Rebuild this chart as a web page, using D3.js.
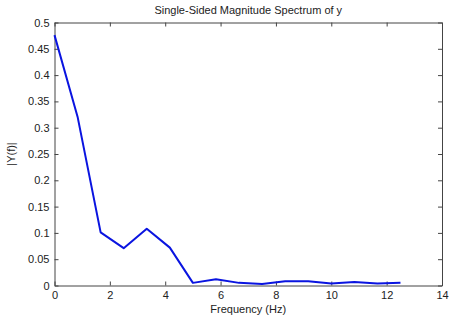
<!DOCTYPE html>
<html lang="en">
<head>
    <meta charset="UTF-8">
    <title>Single-Sided Magnitude Spectrum of y</title>
    <script src="https://d3js.org/d3.v7.js"></script>
    <style>
        body {
            margin: 0;
            background: #fff;
            font-family: "Liberation Sans", Arial, sans-serif;
        }
        .tick text {
            font-size: 11px;
            fill: #222;
        }
        .label {
            font-size: 11px;
            fill: #222;
        }
    </style>
</head>
<body>
    <svg id="chart"></svg>

    <script>
        // Data
        const freq = [0, 0.833, 1.667, 2.5, 3.333, 4.167, 5, 5.833, 6.667, 7.5, 8.333, 9.167, 10, 10.833, 11.667, 12.5];
        const mag = [0.476, 0.321, 0.101, 0.071, 0.108, 0.072, 0.005, 0.012, 0.005, 0.003, 0.008, 0.008, 0.004, 0.0065, 0.004, 0.005];
        const xTicks = [0, 2, 4, 6, 8, 10, 12, 14];
        const yTicks = [0, 0.05, 0.1, 0.15, 0.2, 0.25, 0.3, 0.35, 0.4, 0.45, 0.5];

        const width = 449;
        const height = 320;
        const margin = {top: 22.5, right: 7, bottom: 34.5, left: 54.5};

        const svg = d3.select("#chart")
            .attr("width", width)
            .attr("height", height);

        const x = d3.scaleLinear()
            .domain([0, 14])
            .range([margin.left, width - margin.right]);

        const y = d3.scaleLinear()
            .domain([0, 0.5])
            .range([height - margin.bottom, margin.top]);

        const axisColor = "#444";
        const tickLen = 4;

        // Bottom and left axes, ticks pointing inward
        const gx = svg.append("g")
            .attr("transform", `translate(0, ${y(0)})`)
            .call(d3.axisBottom(x).tickValues(xTicks).tickFormat(d3.format("d"))
                .tickSizeInner(-tickLen).tickSizeOuter(0).tickPadding(6));

        const gy = svg.append("g")
            .attr("transform", `translate(${x(0)}, 0)`)
            .call(d3.axisLeft(y).tickValues(yTicks).tickFormat(d => d === 0 ? "0" : String(d))
                .tickSizeInner(-tickLen).tickSizeOuter(0).tickPadding(5));

        // Top and right axes (ticks only)
        const gt = svg.append("g")
            .attr("transform", `translate(0, ${y(0.5)})`)
            .call(d3.axisTop(x).tickValues(xTicks).tickFormat("")
                .tickSizeInner(-tickLen).tickSizeOuter(0));

        const gr = svg.append("g")
            .attr("transform", `translate(${x(14)}, 0)`)
            .call(d3.axisRight(y).tickValues(yTicks).tickFormat("")
                .tickSizeInner(-tickLen).tickSizeOuter(0));

        [gx, gy, gt, gr].forEach(g => {
            g.selectAll(".domain").attr("stroke", axisColor);
            g.selectAll(".tick line").attr("stroke", axisColor);
        });

        // Spectrum line
        const line = d3.line()
            .x((d, i) => x(freq[i]))
            .y(d => y(d));

        svg.append("path")
            .datum(mag)
            .attr("fill", "none")
            .attr("stroke", "#0a14e0")
            .attr("stroke-width", 2)
            .attr("stroke-linejoin", "round")
            .attr("d", line);

        // Title and axis labels
        svg.append("text")
            .attr("class", "label")
            .attr("x", (x(0) + x(14)) / 2)
            .attr("y", 14)
            .attr("text-anchor", "middle")
            .text("Single-Sided Magnitude Spectrum of y");

        svg.append("text")
            .attr("class", "label")
            .attr("x", (x(0) + x(14)) / 2)
            .attr("y", 313)
            .attr("text-anchor", "middle")
            .text("Frequency (Hz)");

        svg.append("text")
            .attr("class", "label")
            .attr("transform", "rotate(-90)")
            .attr("x", -(y(0) + y(0.5)) / 2)
            .attr("y", 15)
            .attr("text-anchor", "middle")
            .text("|Y(f)|");
    </script>
</body>
</html>
